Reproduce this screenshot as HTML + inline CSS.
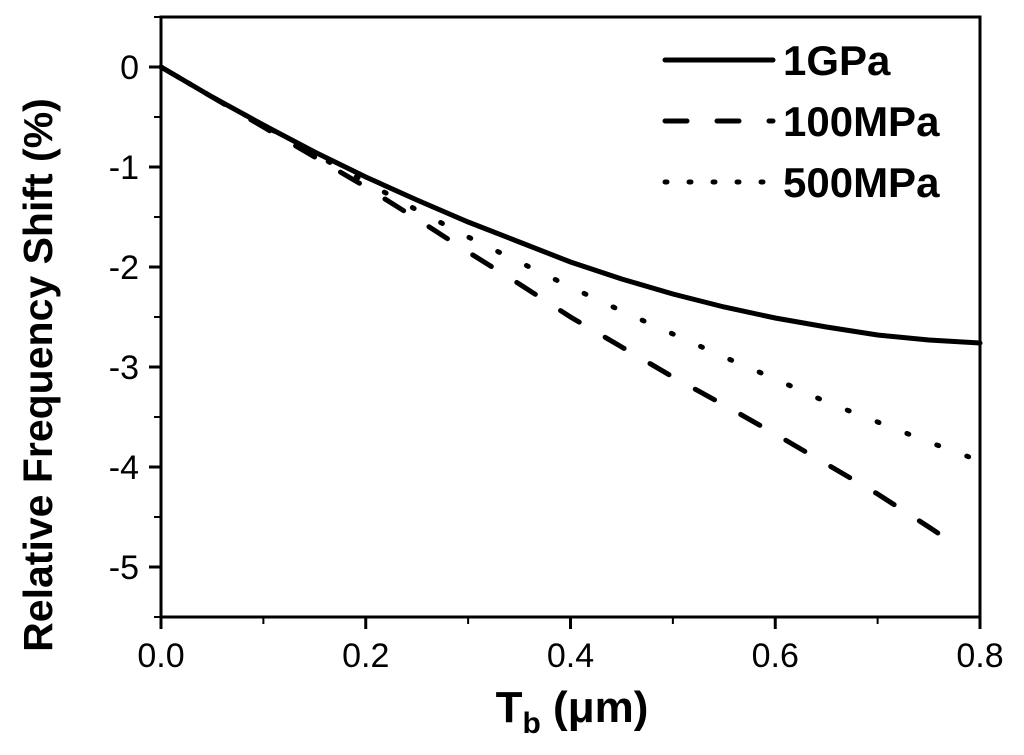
<!DOCTYPE html>
<html><head><meta charset="utf-8"><style>
body{margin:0;background:#fff}
svg{display:block;font-family:"Liberation Sans",Arial,sans-serif}
</style></head><body>
<svg id="chart" width="1024" height="755"></svg>
<script>
const xs=[0,0.05,0.1,0.15,0.2,0.25,0.3,0.35,0.4,0.45,0.5,0.55,0.6,0.65,0.7,0.75,0.8];
const s1GPa=[0,-0.3,-0.58,-0.85,-1.1,-1.33,-1.55,-1.75,-1.95,-2.12,-2.27,-2.4,-2.51,-2.6,-2.68,-2.73,-2.76];
const xs100=[0,0.05,0.1,0.15,0.2,0.25,0.3,0.35,0.4,0.45,0.5,0.55,0.6,0.65,0.7,0.75,0.775];
const s100MPa=[0,-0.3,-0.6,-0.9,-1.2,-1.52,-1.85,-2.17,-2.5,-2.8,-3.1,-3.38,-3.67,-3.97,-4.27,-4.6,-4.77];
const s500MPa=[0,-0.3,-0.58,-0.87,-1.15,-1.43,-1.7,-1.95,-2.2,-2.44,-2.67,-2.9,-3.12,-3.35,-3.55,-3.75,-3.94];
const xTicks=[0,0.2,0.4,0.6,0.8];
const xTickLabels=["0.0","0.2","0.4","0.6","0.8"];
const yTicks=[0,-1,-2,-3,-4,-5];
const yTickLabels=["0","-1","-2","-3","-4","-5"];
const legendLabels=["1GPa","100MPa","500MPa"];

const L=161,R=980,T=17,B=617,xmin=0,xmax=0.8,ymin=-5.5,ymax=0.5;
const X=v=>L+(v-xmin)/(xmax-xmin)*(R-L);
const Y=v=>T+(ymax-v)/(ymax-ymin)*(B-T);
const svg=document.getElementById('chart');
const NS='http://www.w3.org/2000/svg';
function mk(tag,attrs,parent){const e=document.createElementNS(NS,tag);for(const k in attrs)e.setAttribute(k,attrs[k]);(parent||svg).appendChild(e);return e;}

const frame=mk('rect',{x:L,y:T,width:R-L,height:B-T,fill:'none',stroke:'#000','stroke-width':3});



xTicks.forEach((v,i)=>{
  const t=mk('line',{x1:X(v),x2:X(v),y1:B,y2:B+12,stroke:'#000','stroke-width':3});
  
  
  const lb=mk('text',{x:X(v),y:B+50,'font-size':34,'text-anchor':'middle'});
  lb.textContent=xTickLabels[i];
  
  
  if(i<xTicks.length-1){
    const m=mk('line',{x1:X(v+0.1),x2:X(v+0.1),y1:B,y2:B+7,stroke:'#000','stroke-width':2});
    
    
  }
});
yTicks.forEach((v,i)=>{
  const t=mk('line',{x1:L-12,x2:L,y1:Y(v),y2:Y(v),stroke:'#000','stroke-width':3});
  
  
  const lb=mk('text',{x:L-22,y:Y(v)+12,'font-size':34,'text-anchor':'end'});
  lb.textContent=yTickLabels[i];
  
  
});
[0.5,-0.5,-1.5,-2.5,-3.5,-4.5,-5.5].forEach(v=>{
  const m=mk('line',{x1:L-7,x2:L,y1:Y(v),y2:Y(v),stroke:'#000','stroke-width':2});
  
  
});

function series(xv,yv,dash,name){
  const d=xv.map((x,i)=>(i?'L':'M')+X(x).toFixed(1)+','+Y(yv[i]).toFixed(1)).join('');
  const p=mk('path',{d:d,fill:'none',stroke:'#000','stroke-width':5,'stroke-dasharray':dash,'stroke-linecap':'round'});
  
  
}
series(xs,s1GPa,'none','line-1gpa');
series(xs100,s100MPa,'22,30','line-100mpa');
series(xs,s500MPa,'2,30','line-500mpa');

const dashes=['none','22,30','2,22'];
legendLabels.forEach((lab,i)=>{
  const y=60+i*61;
  const l=mk('line',{x1:665,x2:773,y1:y,y2:y,stroke:'#000','stroke-width':5,'stroke-dasharray':dashes[i],'stroke-linecap':'round'});
  
  
  const t=mk('text',{x:783,y:y+15,'font-size':42,'font-weight':'bold'});
  t.textContent=lab;
  
  
});

const xt=mk('text',{x:572,y:722,'font-size':44,'font-weight':'bold','text-anchor':'middle'});
xt.innerHTML='T<tspan font-size="30" dy="11">b</tspan><tspan dy="-11"> (μm)</tspan>';


const yt=mk('text',{x:0,y:0,'font-size':41,'font-weight':'bold','text-anchor':'middle',transform:'translate(52,375) rotate(-90)'});
yt.textContent='Relative Frequency Shift (%)';


</script>
</body></html>
